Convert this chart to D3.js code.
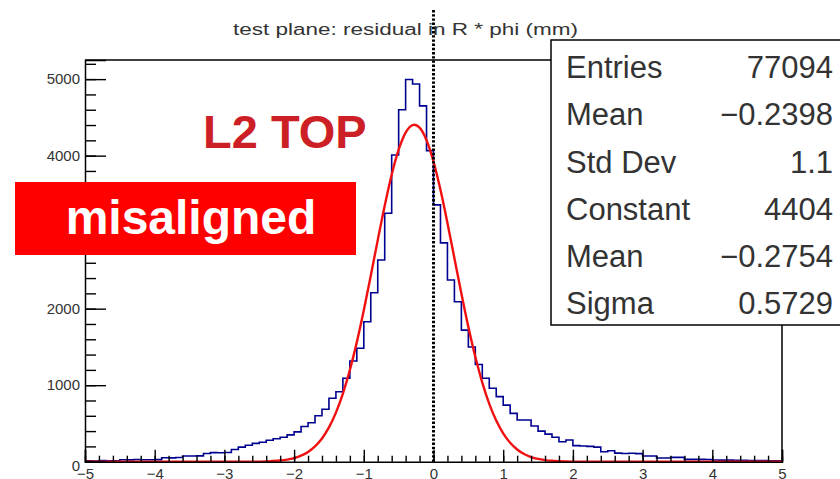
<!DOCTYPE html>
<html>
<head>
    <meta charset="utf-8">
    <title>residual in R * phi</title>
    <script type="text/javascript" src="https://cdn.jsdelivr.net/npm/d3@7"></script>
    <style>
        body { margin: 0; background: #fff; }
        svg text { font-family: "Liberation Sans", Arial, Helvetica, sans-serif; }
    </style>
</head>
<body>
    <div id="chart"></div>
    <script>
        // histogram: 100 bins of 0.1 mm from -5 to 5
        var binLow = -5, binWidth = 0.1;
        var counts = [
            12, 10, 14, 12, 12, 26, 24, 28, 26, 25,
            27, 52, 50, 54, 75, 74, 76, 108, 118, 116,
            120, 160, 190, 215, 240, 255, 280, 300, 320, 350,
            390, 460, 510, 600, 685, 829, 915, 1090, 1316, 1482,
            1830, 2209, 2637, 3247, 4009, 4600, 4995, 4937, 4650, 4065,
            3356, 2860, 2375, 2090, 1720, 1500, 1270, 1090, 960, 850,
            740, 632, 545, 545, 467, 400, 360, 320, 261, 284,
            210, 205, 200, 190, 131, 144, 112, 108, 110, 106,
            75, 75, 48, 48, 57, 57, 30, 30, 31, 29,
            22, 20, 20, 18, 18, 16, 15, 14, 12, 12
        ];

        // gaussian fit curve
        var fitX = [-5, -2.6, -2.4, -2.3, -2.2, -2.1, -2.0, -1.9, -1.8, -1.7, -1.6, -1.5, -1.4, -1.3, -1.2, -1.1,
                    -1.0, -0.9, -0.8, -0.7, -0.6, -0.5, -0.4, -0.3, -0.2754, -0.2, -0.1, 0, 0.1, 0.2, 0.3,
                    0.4, 0.5, 0.6, 0.7, 0.8, 0.9, 1.0, 1.1, 1.2, 1.3, 1.4, 1.5, 1.6, 1.7, 1.8, 1.9, 2.1, 5];
        var fitY = [0, 0.6, 4.5, 8.5, 15.6, 27.6, 47.4, 79, 127.6, 200, 304, 448, 641, 890, 1198, 1563,
                    1979, 2431, 2896, 3346, 3751, 4078, 4301, 4400, 4404, 4366, 4202, 3923, 3553, 3121, 2660,
                    2198, 1762, 1371, 1034, 756, 537, 370, 247, 160, 100, 61, 36, 21, 11.5, 6.2, 3.3, 0.8, 0];

        var xMajor = [-5, -4, -3, -2, -1, 0, 1, 2, 3, 4, 5];
        var yMajor = [0, 1000, 2000, 3000, 4000, 5000];
        var statLabels = ["Entries", "Mean", "Std Dev", "Constant", "Mean", "Sigma"];
        var statValues = ["77094", "\u22120.2398", "1.1", "4404", "\u22120.2754", "0.5729"];

        var title = "test plane: residual in R * phi (mm)";
        var frame = {left: 85, right: 782, top: 60, bottom: 461.7};

        var svg = d3.select("#chart").append("svg")
            .attr("width", 840)
            .attr("height", 479);

        var x = d3.scaleLinear().domain([-5, 5]).range([frame.left, frame.right]);
        var y = d3.scaleLinear().domain([0, 5250]).range([frame.bottom, frame.top]);

        // minor tick positions (every 0.2 on x, every 200 on y)
        var xMinor = d3.range(-5, 5.001, 0.2).map(function(v) { return +v.toFixed(1); });
        var yMinor = d3.range(0, 5250, 200);

        // frame top + right
        svg.append("path")
            .attr("d", "M" + frame.left + "," + frame.top + "H" + frame.right + "V" + frame.bottom)
            .attr("fill", "none")
            .attr("stroke", "#000")
            .attr("stroke-width", 1.5);

        // histogram outline
        var pts = counts.map(function(c, i) { return [binLow + i * binWidth, c]; });
        pts.push([binLow + counts.length * binWidth, counts[counts.length - 1]]);
        var histLine = d3.line()
            .x(function(d) { return x(d[0]); })
            .y(function(d) { return y(d[1]); })
            .curve(d3.curveStepAfter);

        svg.append("path")
            .datum(pts)
            .attr("fill", "none")
            .attr("stroke", "#000090")
            .attr("stroke-width", 1.6)
            .attr("d", histLine);

        // fit
        var fitLine = d3.line()
            .x(function(d, i) { return x(fitX[i]); })
            .y(function(d) { return y(d); })
            .curve(d3.curveMonotoneX);

        svg.append("path")
            .datum(fitY)
            .attr("fill", "none")
            .attr("stroke", "#f01010")
            .attr("stroke-width", 2.4)
            .attr("d", fitLine);

        // axes, ticks point inward like ROOT
        var yAxis = svg.append("g")
            .attr("transform", "translate(" + frame.left + ",0)")
            .call(d3.axisLeft(y).tickValues(yMajor).tickSize(-21).tickPadding(5).tickFormat(d3.format("d")));
        svg.append("g")
            .attr("transform", "translate(" + frame.left + ",0)")
            .call(d3.axisLeft(y).tickValues(yMinor).tickSize(-11).tickFormat(""))
            .select(".domain").remove();

        var xAxis = svg.append("g")
            .attr("transform", "translate(0," + frame.bottom + ")")
            .call(d3.axisBottom(x).tickValues(xMajor).tickSize(-12).tickPadding(7).tickFormat(d3.format("d")));
        svg.append("g")
            .attr("transform", "translate(0," + frame.bottom + ")")
            .call(d3.axisBottom(x).tickValues(xMinor).tickSize(-6).tickFormat(""))
            .select(".domain").remove();

        svg.selectAll(".domain").attr("stroke-width", 1.5).attr("stroke", "#000");
        svg.selectAll(".tick line").attr("stroke-width", 1.4).attr("stroke", "#000");
        yAxis.selectAll("text").style("font-size", "15px").attr("fill", "#333");
        yAxis.selectAll(".tick").filter(function(d) { return d === 0; }).select("text").attr("dy", "0.6em");
        xAxis.selectAll("text").style("font-size", "15px").attr("fill", "#333");

        // dotted line at zero
        svg.append("line")
            .attr("x1", x(0)).attr("x2", x(0))
            .attr("y1", 10).attr("y2", frame.bottom)
            .attr("stroke", "#000")
            .attr("stroke-width", 3)
            .attr("stroke-dasharray", "2.4,1.8");

        // title
        svg.append("text")
            .attr("x", 233)
            .attr("y", 35)
            .attr("textLength", 345)
            .attr("lengthAdjust", "spacingAndGlyphs")
            .style("font-size", "16px")
            .attr("fill", "#333")
            .text(title);

        // annotations
        svg.append("text")
            .attr("x", 203)
            .attr("y", 148)
            .style("font-size", "47px")
            .style("font-weight", "bold")
            .attr("fill", "#cc1f26")
            .text("L2 TOP");

        svg.append("rect")
            .attr("x", 15).attr("y", 182)
            .attr("width", 341).attr("height", 73)
            .attr("fill", "#ff0000");
        svg.append("text")
            .attr("x", 191)
            .attr("y", 234)
            .attr("text-anchor", "middle")
            .style("font-size", "48px")
            .style("font-weight", "bold")
            .attr("fill", "#fff")
            .text("misaligned");

        // stats box
        var stats = svg.append("g");
        stats.append("rect")
            .attr("x", 551).attr("y", 40)
            .attr("width", 320).attr("height", 285)
            .attr("fill", "#fff")
            .attr("stroke", "#000")
            .attr("stroke-width", 1.5);

        statLabels.forEach(function(lab, i) {
            var yy = 67 + i * 47.2;
            stats.append("text")
                .attr("x", 566).attr("y", yy)
                .attr("dy", "0.36em")
                .style("font-size", "31px")
                .attr("fill", "#333")
                .text(lab);
            stats.append("text")
                .attr("x", 833).attr("y", yy)
                .attr("dy", "0.36em")
                .attr("text-anchor", "end")
                .style("font-size", "31px")
                .attr("fill", "#333")
                .text(statValues[i]);
        });
    </script>
</body>
</html>
